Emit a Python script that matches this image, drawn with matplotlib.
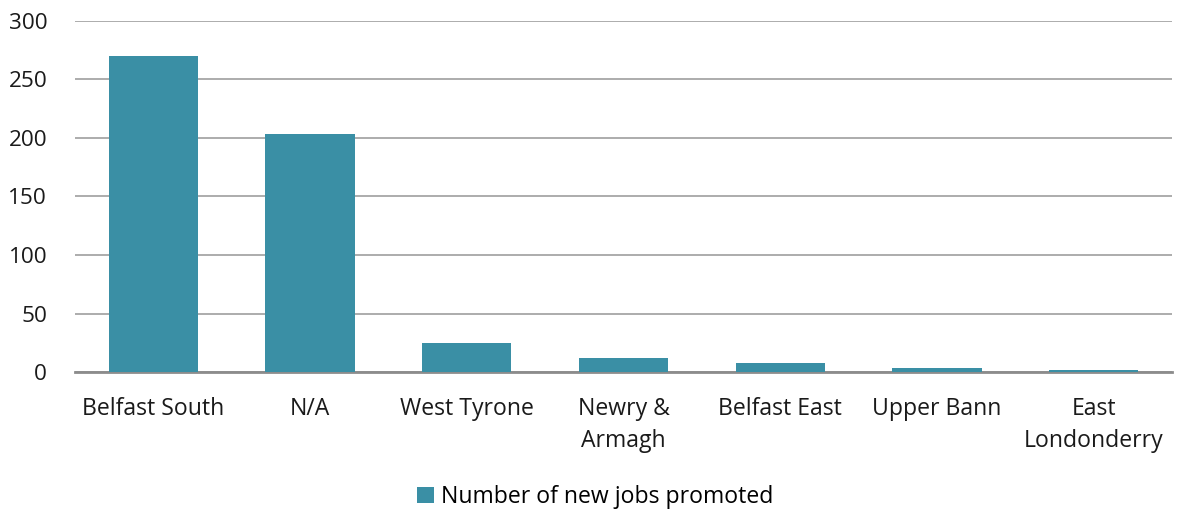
import matplotlib
matplotlib.use('Agg')
import matplotlib.pyplot as plt
import numpy as np

categories = ['Belfast South', 'N/A', 'West Tyrone', 'Newry &\nArmagh',
              'Belfast East', 'Upper Bann', 'East\nLondonderry']
jobs = [270, 203, 25, 12, 8, 3, 2]
series_name = 'Number of new jobs promoted'
yticks = [0, 50, 100, 150, 200, 250, 300]

plt.rcParams['font.family'] = ['Open Sans', 'DejaVu Sans']

fig = plt.figure(figsize=(11.78, 5.14), dpi=100)
ax = fig.add_axes([75 / 1178, 1 - 372 / 514, 1097 / 1178, 351 / 514])

x = np.arange(len(categories))
ax.bar(x, jobs, width=0.57, color='#3A8FA5', label=series_name, zorder=3)

ax.set_xlim(-0.5, len(categories) - 0.5)
ax.set_ylim(0, 300)
ax.set_yticks(yticks)
ax.set_xticks(x)
ax.set_xticklabels(categories, fontsize=16.6, linespacing=1.45)
ax.tick_params(axis='y', labelsize=16.2, length=0, pad=20)
ax.tick_params(axis='x', length=0, pad=18)
for lab in ax.get_yticklabels():
    lab.set_color('#1a1a1a')
for lab in ax.get_xticklabels():
    lab.set_color('#1a1a1a')

ax.yaxis.grid(True, color='#A6A6A6', linewidth=1.3, zorder=0)
for s in ['top', 'right', 'left']:
    ax.spines[s].set_visible(False)
ax.spines['bottom'].set_color('#8C8C8C')
ax.spines['bottom'].set_linewidth(2)

fig.legend(loc='center', bbox_to_anchor=(595 / 1178, 1 - 497 / 514), frameon=False,
           fontsize=16.6, handlelength=0.75, handleheight=0.75, handletextpad=0.3)

fig.savefig('out.png', dpi=100)
